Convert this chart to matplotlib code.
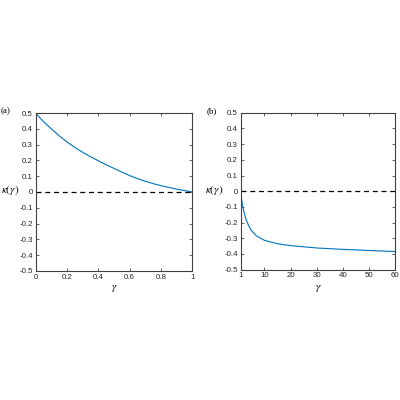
import numpy as np
import matplotlib
matplotlib.use("Agg")
import matplotlib.pyplot as plt

plt.rcParams["font.family"] = ["Liberation Sans", "DejaVu Sans"]
plt.rcParams["mathtext.fontset"] = "stix"

# panel (a): gamma in [0, 1]
gam_a = [0.0, 0.05, 0.1, 0.15, 0.2, 0.25, 0.3, 0.35, 0.4, 0.45, 0.5,
         0.55, 0.6, 0.65, 0.7, 0.75, 0.8, 0.85, 0.9, 0.95, 1.0]
kap_a = [0.5, 0.447, 0.401, 0.357, 0.318, 0.283, 0.252, 0.224, 0.198, 0.173, 0.150,
         0.126, 0.104, 0.085, 0.068, 0.053, 0.040, 0.029, 0.018, 0.009, 0.0]
# panel (b): gamma in [1, 60]
gam_b = [1, 1.3, 1.6, 2, 2.5, 3, 4, 5, 7, 10, 15, 20, 30, 40, 50, 60]
kap_b = [0.0, -0.05, -0.085, -0.115, -0.15, -0.18, -0.22, -0.25, -0.285, -0.313,
         -0.335, -0.347, -0.362, -0.371, -0.378, -0.385]

yticks = np.round(np.arange(-0.5, 0.51, 0.1), 1)
ytlabels = ["0" if v == 0 else f"{v:.1f}" for v in yticks]
xticks_a = [0, 0.2, 0.4, 0.6, 0.8, 1]
xtlabels_a = ["0", "0.2", "0.4", "0.6", "0.8", "1"]
xticks_b = [1, 10, 20, 30, 40, 50, 60]

BLUE = "#0072BD"
fig = plt.figure(figsize=(4, 4), dpi=100)
ax_a = fig.add_axes([0.089, 0.323, 0.392, 0.394])
ax_b = fig.add_axes([0.602, 0.326, 0.386, 0.392])

def style(ax):
    ax.set_ylim(-0.5, 0.5)
    ax.set_yticks(yticks)
    ax.set_yticklabels(ytlabels)
    ax.tick_params(direction="in", length=2, width=0.5, labelsize=5.7, pad=2,
                   top=True, right=True, colors="#262626")
    for s in ax.spines.values():
        s.set_linewidth(0.8); s.set_color("#404040")
    ax.axhline(0, color="black", ls=(0, (4, 3)), lw=0.9)

ax_a.plot(gam_a, kap_a, color=BLUE, lw=0.8)
ax_a.set_xlim(0, 1)
ax_a.set_xticks(xticks_a); ax_a.set_xticklabels(xtlabels_a)
style(ax_a)

ax_b.plot(gam_b, kap_b, color=BLUE, lw=0.8)
ax_b.set_xlim(1, 60)
ax_b.set_xticks(xticks_b)
style(ax_b)

# labels (placed in figure coords)
for xl in (114, 318):
    fig.text(xl / 400, 1 - 288 / 400, r"$\gamma$", ha="center", va="center", fontsize=8)
fig.text(10 / 400, 1 - 190 / 400, r"$\kappa(\gamma)$", ha="center", va="center", fontsize=8)
fig.text(214 / 400, 1 - 190 / 400, r"$\kappa(\gamma)$", ha="center", va="center", fontsize=8)
fig.text(6 / 400, 1 - 111 / 400, "(a)", ha="center", va="center", fontsize=6.5, family="Liberation Serif")
fig.text(212 / 400, 1 - 111 / 400, "(b)", ha="center", va="center", fontsize=6.5, family="Liberation Serif")

fig.savefig("out.png", dpi=100)
